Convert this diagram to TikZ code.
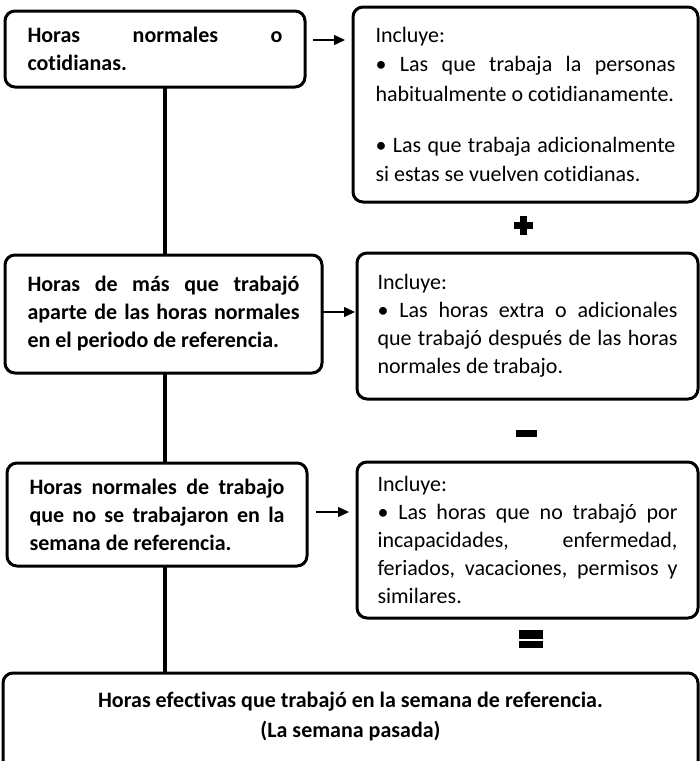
\documentclass[tikz,border=0pt]{standalone}
\usepackage{fontspec}
\setmainfont{Carlito}[Ligatures={NoCommon}]
\usepackage{tikz}
\usetikzlibrary{arrows.meta, calc}

\begin{document}
\begin{tikzpicture}[
    x=1pt, y=-1pt,
    leftbox/.style={rectangle, draw, line width=3pt, rounded corners=10pt, fill=white, outer sep=0pt,
        align=justify, font=\fontsize{22}{28}\selectfont\bfseries},
    rightbox/.style={rectangle, draw, line width=3pt, rounded corners=10pt, fill=white, outer sep=0pt,
        align=justify, text width=300pt, font=\fontsize{22}{28}\selectfont},
    endbox/.style={rectangle, outer sep=0pt, align=center, font=\fontsize{22}{30}\selectfont\bfseries},
    flecha/.style={draw, line width=1.3pt, -{Triangle[length=11pt,width=10pt]}},
    tronco/.style={draw, line width=3.5pt},
    caja/.style={draw, line width=3pt, rounded corners=10pt}
]
    \useasboundingbox (0,0) rectangle (700,761);

    % Left boxes
    \node[leftbox, minimum width=300pt, minimum height=76pt, text width=255pt] (normales) at (155,49)
        {Horas normales o\linebreak cotidianas.};
    \node[leftbox, minimum width=317pt, minimum height=118pt, text width=272pt] (extra) at (163.5,314)
        {Horas de más que trabajó\linebreak aparte de las horas normales\linebreak en el periodo de referencia.};
    \node[leftbox, minimum width=300pt, minimum height=103pt, text width=255pt] (ausentes) at (157,514.5)
        {Horas normales de trabajo\linebreak que no se trabajaron en la\linebreak semana de referencia.};

    % Right boxes
    \node[rightbox, minimum width=345pt, minimum height=195pt,
          font=\fontsize{22}{29.5}\selectfont] (inclNormales) at (525.5,104.5)
        {Incluye:\par
         • Las que trabaja la personas\linebreak habitualmente o cotidianamente.\par
         \vspace{21.5pt}• Las que trabaja adicionalmente\linebreak si estas se vuelven cotidianas.};
    \node[rightbox, minimum width=341pt, minimum height=146pt] (inclExtra) at (527.5,326)
        {Incluye:\par
         • Las horas extra o adicionales\linebreak que trabajó después de las horas\linebreak normales de trabajo.};
    \node[rightbox, minimum width=341pt, minimum height=156pt] (inclAusentes) at (527.5,540)
        {Incluye:\par
         • Las horas que no trabajó por\linebreak incapacidades, enfermedad,\linebreak feriados, vacaciones, permisos y\linebreak similares.};

    % Result box (open at the bottom)
    \node[endbox, minimum width=695pt, minimum height=88pt] (efectivas) at (350.5,717)
        {Horas efectivas que trabajó en la semana de referencia.\\(La semana pasada)};
    \draw[caja] (efectivas.south west) |- (efectivas.north) -| (efectivas.south east);

    % Trunk
    \coordinate (eje) at (165,0);
    \draw[tronco] (normales.south -| eje) -- (extra.north -| eje);
    \draw[tronco] (extra.south -| eje) -- (ausentes.north -| eje);
    \draw[tronco] (ausentes.south -| eje) -- (efectivas.north -| eje);

    % Arrows
    \draw[flecha, shorten <=8pt, shorten >=8pt] ([yshift=9pt]normales.east) -- ([yshift=9pt]normales.east -| inclNormales.west);
    \draw[flecha, shorten >=2pt] ([yshift=2pt]extra.east) -- ([yshift=2pt]extra.east -| inclExtra.west);
    \draw[flecha, shorten <=9pt, shorten >=8pt] ([yshift=2.5pt]ausentes.east) -- ([yshift=2.5pt]ausentes.east -| inclAusentes.west);

    % Operators
    \coordinate (mas) at (523,225);
    \coordinate (menos) at (526.5,433.5);
    \coordinate (igual) at (531,639.5);
    \fill ([shift={(-9.5,-3.5)}]mas) rectangle ([shift={(9.5,3.5)}]mas);
    \fill ([shift={(-3.5,-9.5)}]mas) rectangle ([shift={(3.5,9.5)}]mas);
    \fill ([shift={(-10.5,-3.5)}]menos) rectangle ([shift={(10.5,3.5)}]menos);
    \fill ([shift={(-12,-9.5)}]igual) rectangle ([shift={(12,-1)}]igual);
    \fill ([shift={(-12,1)}]igual) rectangle ([shift={(12,8.5)}]igual);

\end{tikzpicture}
\end{document}
